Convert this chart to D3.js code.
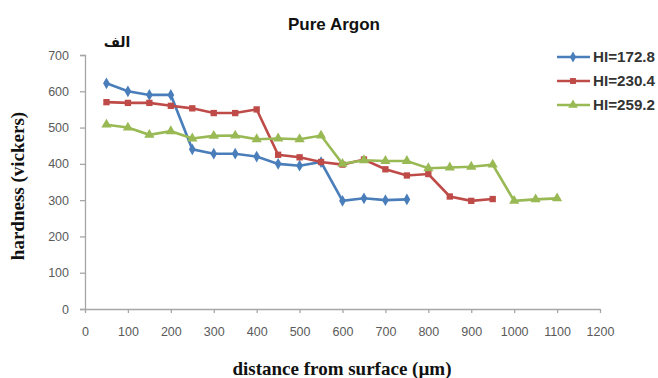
<!DOCTYPE html>
<html><head><meta charset="utf-8">
<script src="https://cdn.jsdelivr.net/npm/d3@7"></script>
<style>body{margin:0;background:#fff}</style>
</head><body>
<svg id="c" width="658" height="378"></svg>
<script>
const distances = [50,100,150,200,250,300,350,400,450,500,550,600,650,700,750,800,850,900,950,1000,1050,1100];
const hi172 = [622,600,590,590,440,428,428,420,400,395,405,298,305,300,302];
const hi230 = [570,568,568,560,553,540,540,550,425,418,405,398,412,385,368,372,310,298,303];
const hi259 = [508,500,480,490,470,477,478,468,470,468,478,400,410,408,408,388,390,392,398,298,302,305];
const seriesNames = ["HI=172.8","HI=230.4","HI=259.2"];
const yTicks = [0,100,200,300,400,500,600,700];
const xTicks = [0,100,200,300,400,500,600,700,800,900,1000,1100,1200];

const svg = d3.select("#c");
const x = d3.scaleLinear().domain([0,1200]).range([85,600]);
const y = d3.scaleLinear().domain([0,700]).range([309,55]);

const axisColor = "#a6a6a6";
const tickText = "#5a5a5a";

const yAxis = svg.append("g").attr("transform","translate(85,0)")
  .call(d3.axisLeft(y).tickValues(yTicks).tickSize(5).tickPadding(11).tickFormat(d3.format("d")));
const xAxis = svg.append("g").attr("transform","translate(0,309)")
  .call(d3.axisBottom(x).tickValues(xTicks).tickSize(4).tickPadding(14).tickFormat(d3.format("d")));
[yAxis,xAxis].forEach(a=>{
  a.selectAll("path,line").attr("stroke",axisColor).attr("stroke-width",1.3);
  a.selectAll("text").attr("fill",tickText).attr("font-family","Liberation Sans, Arial, sans-serif").attr("font-size",12.5);
});
xAxis.select(".domain").attr("d","M85,0.5H600");

const colors = ["#4a7ebb","#be4b48","#98b954"];
const data = [hi172,hi230,hi259].map(vals=>vals.map((v,i)=>({x:distances[i],y:v})));
const line = d3.line().x(d=>x(d.x)).y(d=>y(d.y));
const symbols = [d3.symbolDiamond, d3.symbolSquare, d3.symbolTriangle];
const sizes = [40, 40, 45];

data.forEach((s,k)=>{
  svg.append("path").datum(s).attr("d",line).attr("fill","none")
    .attr("stroke",colors[k]).attr("stroke-width",2.6);
  svg.append("g").selectAll("path").data(s).join("path")
    .attr("transform",d=>`translate(${x(d.x)},${y(d.y)})`)
    .attr("d",d3.symbol().type(symbols[k]).size(sizes[k]))
    .attr("fill",colors[k]);
});

// legend
const lg = svg.append("g");
seriesNames.forEach((n,k)=>{
  const yy = 57 + k*24;
  lg.append("line").attr("x1",557).attr("x2",590).attr("y1",yy).attr("y2",yy)
    .attr("stroke",colors[k]).attr("stroke-width",2.6);
  lg.append("path").attr("transform",`translate(573,${yy})`)
    .attr("d",d3.symbol().type(symbols[k]).size(sizes[k]-5)).attr("fill",colors[k]);
  lg.append("text").attr("x",593).attr("y",yy+5).text(n)
    .attr("font-family","Liberation Sans, Arial, sans-serif").attr("font-size",14)
    .attr("font-weight","bold").attr("fill","#333").attr("textLength",62).attr("lengthAdjust","spacingAndGlyphs");
});

// titles
svg.append("text").attr("x",334).attr("y",30).attr("text-anchor","middle")
  .attr("font-family","Liberation Sans, Arial, sans-serif").attr("font-weight","bold")
  .attr("font-size",17).attr("fill","#111").text("Pure Argon");
svg.append("text").attr("x",117).attr("y",47).attr("text-anchor","middle")
  .attr("font-family","DejaVu Sans, Noto Sans, sans-serif").attr("font-weight","bold")
  .attr("font-size",14).attr("fill","#111").attr("direction","rtl").text("الف");
svg.append("text").attr("x",342).attr("y",375).attr("text-anchor","middle")
  .attr("font-family","Liberation Serif, Times New Roman, serif").attr("font-weight","bold")
  .attr("font-size",19).attr("fill","#111").text("distance from surface (\u00b5m)");
svg.append("text").attr("transform","translate(24,186) rotate(-90)").attr("text-anchor","middle")
  .attr("font-family","Liberation Serif, Times New Roman, serif").attr("font-weight","bold")
  .attr("font-size",19).attr("fill","#111").text("hardness (vickers)");
</script>
</body></html>
